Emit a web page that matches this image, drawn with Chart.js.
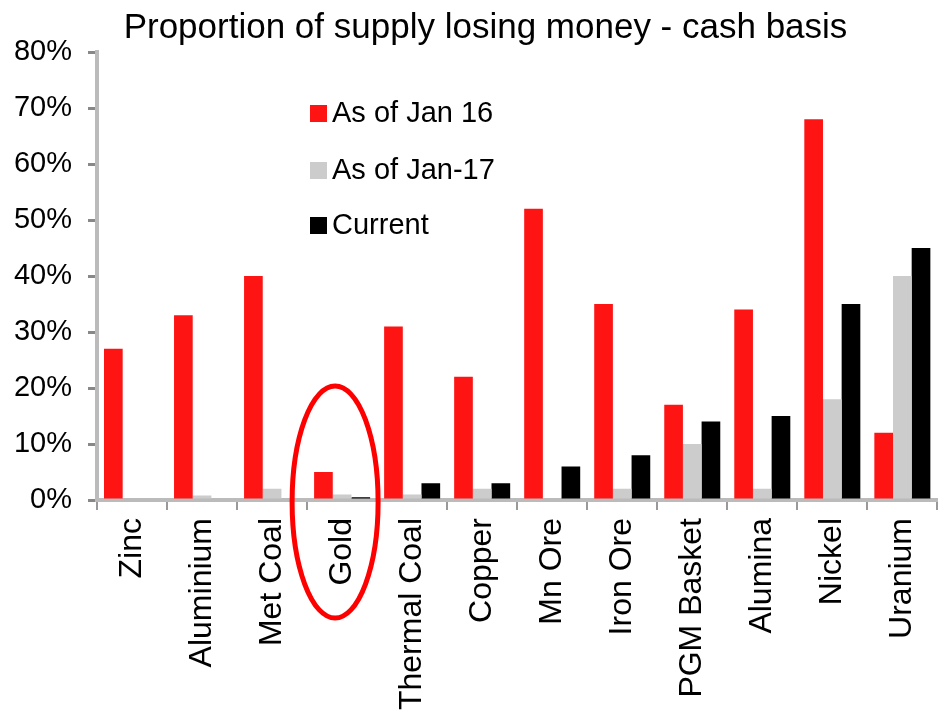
<!DOCTYPE html>
<html>
<head>
<meta charset="utf-8">
<script src="https://cdn.jsdelivr.net/npm/chart.js@4/dist/chart.umd.min.js"></script>
<style>
  html, body { margin: 0; padding: 0; background: #fff; }
  #wrap { width: 949px; height: 721px; }
</style>
</head>
<body>
<div id="wrap"><canvas id="chart" width="949" height="721"></canvas></div>
<script>
// chart data
const categories = ['Zinc', 'Aluminium', 'Met Coal', 'Gold', 'Thermal Coal', 'Copper',
  'Mn Ore', 'Iron Ore', 'PGM Basket', 'Alumina', 'Nickel', 'Uranium'];
const seriesNames = ['As of Jan 16', 'As of Jan-17', 'Current'];
const jan16 = [27, 33, 40, 5, 31, 22, 52, 35, 17, 34, 68, 12];
const jan17 = [0, 0.8, 2, 1, 1, 2, 0, 2, 10, 2, 18, 40];
const current = [0, 0, 0, 0.5, 3, 3, 6, 8, 14, 15, 35, 45];
const yTicks = [0, 10, 20, 30, 40, 50, 60, 70, 80];
const titleText = 'Proportion of supply losing money - cash basis';
const circledCategory = 'Gold';

const FONT = '"Liberation Sans", Arial, sans-serif';
const colors = ['#ff1414', '#cccccc', '#000000'];

// title sits a little right of the canvas centre in the original
const topTitle = {
  id: 'topTitle',
  afterDraw(chart) {
    const { ctx } = chart;
    ctx.save();
    ctx.font = '35px ' + FONT;
    ctx.fillStyle = '#000';
    ctx.textAlign = 'center';
    ctx.textBaseline = 'alphabetic';
    ctx.fillText(titleText, chart.width / 2 + 11, 38);
    ctx.restore();
  }
};

// legend drawn inside the plot, like the original
const insideLegend = {
  id: 'insideLegend',
  afterDatasetsDraw(chart) {
    const { ctx, chartArea } = chart;
    const rows = [61, 118, 173];
    ctx.save();
    ctx.font = '29px ' + FONT;
    ctx.textBaseline = 'middle';
    chart.data.datasets.forEach((ds, i) => {
      const x = chartArea.left + 213;
      const y = chartArea.top + rows[i];
      ctx.fillStyle = ds.backgroundColor;
      ctx.fillRect(x, y - 8, 17, 17);
      ctx.fillStyle = '#000';
      ctx.fillText(ds.label, x + 22, y + 1);
    });
    ctx.restore();
  }
};

// red ring round one category
const ringMark = {
  id: 'ringMark',
  afterDraw(chart) {
    const { ctx, scales } = chart;
    const cx = scales.x.getPixelForValue(categories.indexOf(circledCategory)) - 7;
    const cy = scales.y.getPixelForValue(0) + 2;
    ctx.save();
    ctx.strokeStyle = '#ff0000';
    ctx.lineWidth = 5;
    ctx.beginPath();
    ctx.ellipse(cx, cy, 43, 116, 0, 0, Math.PI * 2);
    ctx.stroke();
    ctx.restore();
  }
};

new Chart(document.getElementById('chart'), {
  type: 'bar',
  data: {
    labels: categories,
    datasets: [
      { label: seriesNames[0], data: jan16, backgroundColor: colors[0] },
      { label: seriesNames[1], data: jan17, backgroundColor: colors[1] },
      { label: seriesNames[2], data: current, backgroundColor: colors[2] }
    ]
  },
  options: {
    responsive: false,
    animation: false,
    layout: { padding: { left: 0, right: 6, top: 52, bottom: 0 } },
    datasets: { bar: { categoryPercentage: 0.8, barPercentage: 1.0 } },
    plugins: {
      legend: { display: false },
      tooltip: { enabled: false },
      title: { display: false }
    },
    scales: {
      x: {
        grid: { drawOnChartArea: false, drawTicks: true, tickLength: 10, color: '#999', lineWidth: 2 },
        border: { display: true, color: '#bbbbbb', width: 4 },
        ticks: {
          color: '#000', padding: 8, autoSkip: false,
          maxRotation: 90, minRotation: 90,
          font: { family: FONT, size: 32 }
        },
        afterFit(scale) { scale.height = 221; }
      },
      y: {
        min: 0, max: 80,
        afterBuildTicks(scale) { scale.ticks = yTicks.map(v => ({ value: v })); },
        grid: { drawOnChartArea: false, drawTicks: true, tickLength: 9, color: '#888', lineWidth: 3 },
        border: { display: true, color: '#bbbbbb', width: 4 },
        ticks: {
          color: '#000', padding: 16,
          font: { family: FONT, size: 29 },
          callback: v => v + '%'
        },
        afterFit(scale) { scale.width = 97; }
      }
    }
  },
  plugins: [topTitle, insideLegend, ringMark]
});
</script>
</body>
</html>
